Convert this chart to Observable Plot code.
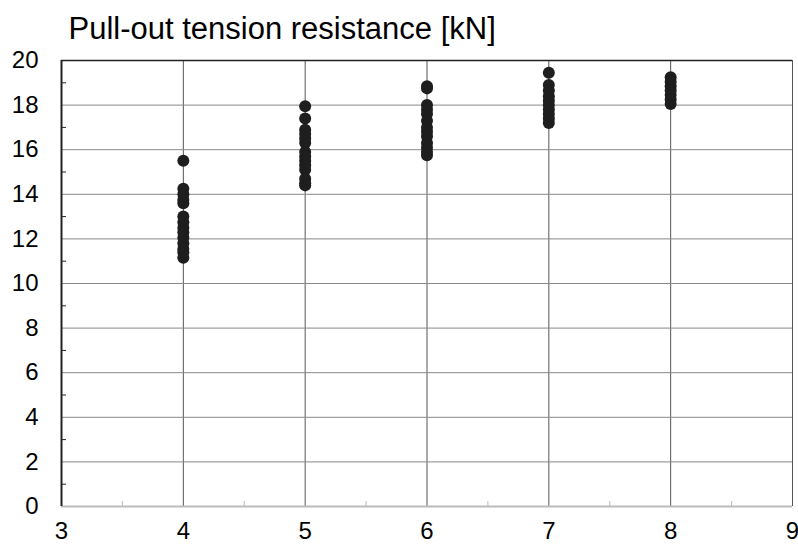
<!DOCTYPE html>
<html>
<head>
<meta charset="utf-8">
<script src="https://cdn.jsdelivr.net/npm/d3@7"></script>
<script src="https://cdn.jsdelivr.net/npm/@observablehq/plot@0.6"></script>
<style>
body { margin: 0; background: #fff; }
#chart svg { display: block; }
</style>
</head>
<body>
<div id="chart"></div>
<script>
const title = "Pull-out tension resistance [kN]";
const xTicks = [3, 4, 5, 6, 7, 8, 9];
const xMinorTicks = [3.5, 4.5, 5.5, 6.5, 7.5, 8.5];
const yTicks = [0, 2, 4, 6, 8, 10, 12, 14, 16, 18, 20];
const yMinorTicks = [1, 3, 5, 7, 9, 11, 13, 15, 17, 19];

const xCategories = [4, 5, 6, 7, 8];
const values4 = [15.5, 14.25, 14.0, 13.75, 13.6, 13.0, 12.75, 12.5, 12.3, 12.05, 11.8, 11.55, 11.4, 11.15];
const values5 = [17.95, 17.4, 16.9, 16.7, 16.5, 16.3, 15.9, 15.7, 15.5, 15.3, 15.1, 14.7, 14.5, 14.4];
const values6 = [18.85, 18.75, 18.0, 17.8, 17.6, 17.3, 17.0, 16.8, 16.6, 16.3, 16.1, 15.9, 15.75];
const values7 = [19.45, 18.9, 18.65, 18.4, 18.2, 18.0, 17.8, 17.6, 17.4, 17.2];
const values8 = [19.25, 19.05, 18.85, 18.65, 18.45, 18.25, 18.05];

const series = [values4, values5, values6, values7, values8];
const data = series.flatMap((vals, i) => vals.map(v => ({x: xCategories[i], y: v})));

const font = "'Liberation Sans', Arial, sans-serif";

const chart = Plot.plot({
  width: 798,
  height: 546,
  marginLeft: 61,
  marginRight: 6,
  marginTop: 60,
  marginBottom: 40,
  style: {fontFamily: font, background: "#fff", color: "#000", fontSize: "24px"},
  x: {domain: [3, 9]},
  y: {domain: [0, 20]},
  marks: [
    Plot.gridX(xTicks.slice(1), {stroke: "#555", strokeOpacity: 1, strokeWidth: 1}),
    Plot.gridY(yTicks.slice(1, -1), {stroke: "#888", strokeOpacity: 1, strokeWidth: 1}),
    Plot.ruleY([0], {stroke: "#bbb", strokeWidth: 2}),
    Plot.ruleY([20], {stroke: "#222", strokeWidth: 1.5}),
    Plot.axisX({ticks: xMinorTicks, tickSize: -5, tickFormat: () => "", stroke: "#bbb", label: null}),
    Plot.axisY({ticks: yMinorTicks, tickSize: -5, tickFormat: () => "", stroke: "#222", label: null}),
    Plot.ruleX([3], {stroke: "#222", strokeWidth: 2}),
    Plot.axisX({ticks: xTicks, tickSize: 0, tickPadding: 15, fontSize: 24, label: null, tickFormat: d3.format("d")}),
    Plot.axisY({ticks: yTicks, tickSize: 0, tickPadding: 23, fontSize: 24, label: null, tickFormat: d3.format("d")}),
    Plot.dot(data, {x: "x", y: "y", r: 6, fill: "#1e1e1e", stroke: "none"}),
    Plot.text([title], {text: d => d, frameAnchor: "top-left", dx: 7, dy: -22, textAnchor: "start", lineAnchor: "bottom", fontSize: 31, fill: "#000"})
  ]
});
document.getElementById("chart").appendChild(chart);
</script>
</body>
</html>
